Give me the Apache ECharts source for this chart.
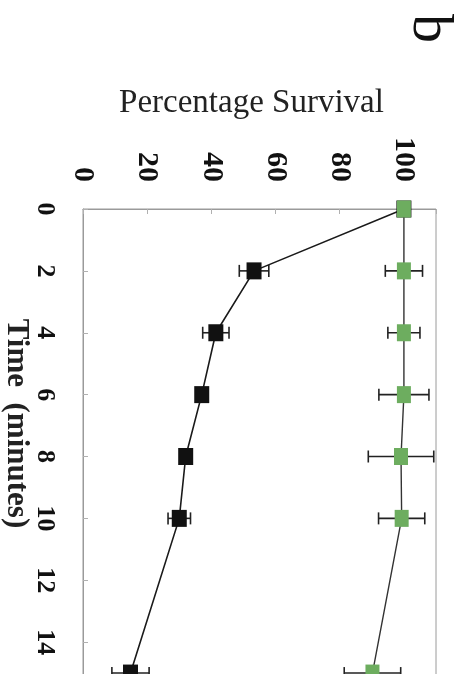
<!DOCTYPE html>
<html>
<head>
<meta charset="utf-8">
<script src="https://cdn.jsdelivr.net/npm/echarts@6/dist/echarts.min.js"></script>
<style>
html,body{margin:0;padding:0;background:#fff;}
#chart{width:465px;height:674px;}
</style>
</head>
<body>
<div id="chart"></div>
<script>
const timeMin = [0, 2, 4, 6, 8, 10, 15];
const blackSurvival = [100, 53.3, 41.4, 37.0, 32.0, 30.0, 14.8];
const blackErr = [0, 4.6, 4.1, 0, 0, 3.5, 5.8];
const greenSurvival = [100, 100, 100, 100, 99.1, 99.3, 90.2];
const greenErr = [0, 5.8, 5.0, 7.8, 10.2, 7.2, 8.8];
const pctTicks = [0, 20, 40, 60, 80, 100];
const timeTicks = [0, 2, 4, 6, 8, 10, 12, 14];

const serif = '"Liberation Serif", "Times New Roman", serif';
const frame = '#9a9a9a';
const ink = '#1a1a1a';
const green = '#6dad5f';

function pts(vals){ return vals.map((v,i)=>[v, timeMin[i]]); }
function errPts(vals, errs){ return vals.map((v,i)=>[v, timeMin[i], errs[i]]); }

function errRender(params, api){
  const p = api.value(0), t = api.value(1), e = api.value(2);
  if (!e) return;
  const a = api.coord([p - e, t]);
  const b = api.coord([p + e, t]);
  const h = 6;
  const st = {stroke: '#222', lineWidth: 1.6};
  return {type:'group', children:[
    {type:'line', shape:{x1:a[0], y1:a[1], x2:b[0], y2:b[1]}, style:st},
    {type:'line', shape:{x1:a[0], y1:a[1]-h, x2:a[0], y2:a[1]+h}, style:st},
    {type:'line', shape:{x1:b[0], y1:b[1]-h, x2:b[0], y2:b[1]+h}, style:st}
  ]};
}

const chart = echarts.init(document.getElementById('chart'), null, {renderer:'canvas'});
chart.setOption({
  animation:false,
  backgroundColor:'#fff',
  grid:{left:83, top:209, width:353, height:495, containLabel:false, outerBoundsMode:'none',
    show:true, borderColor:frame, borderWidth:1, backgroundColor:'transparent'},
  xAxis:{
    type:'value', position:'top', min:0, max:110, interval:20,
    name:'Percentage Survival', nameLocation:'middle', nameGap:89, nameMoveOverlap:false,
    nameTextStyle:{fontFamily:serif, fontSize:33, color:'#222', padding:[0,16,0,0]},
    axisLine:{show:true, lineStyle:{color:frame, width:1}},
    axisTick:{show:true, inside:true, length:5, lineStyle:{color:'#b0b0b0'}},
    splitLine:{show:false},
    axisLabel:{rotate:-90, margin:27, fontFamily:serif, fontWeight:'bold', fontSize:30, color:'#111',
      formatter:function(v){ return pctTicks.indexOf(v) >= 0 ? String(v) : ''; }}
  },
  yAxis:{
    type:'value', inverse:true, min:0, max:16, interval:2,
    name:'Time  (minutes)', nameLocation:'middle', nameGap:51, nameRotate:-90, nameMoveOverlap:false,
    nameTextStyle:{fontFamily:serif, fontWeight:'bold', fontSize:31, color:'#222', padding:[0,66,0,0]},
    axisLine:{show:true, lineStyle:{color:frame, width:1}},
    axisTick:{show:true, inside:true, length:5, lineStyle:{color:'#b0b0b0'}},
    splitLine:{show:false},
    axisLabel:{rotate:-90, margin:25, fontFamily:serif, fontWeight:'bold', fontSize:26, color:'#111',
      formatter:function(v){ return timeTicks.indexOf(v) >= 0 ? String(v) : ''; }}
  },
  graphic:[{type:'text', left:400, top:14, rotation:-Math.PI/2, originX:0, originY:0,
    style:{text:'b', font:'58px ' + serif, fill:'#111'}}],
  series:[
    {type:'custom', name:'black err', renderItem:errRender, data:errPts(blackSurvival, blackErr), encode:{x:0,y:1}, z:1, silent:true},
    {type:'custom', name:'green err', renderItem:errRender, data:errPts(greenSurvival, greenErr), encode:{x:0,y:1}, z:1, silent:true},
    {type:'line', name:'black', data:pts(blackSurvival), symbol:'rect', symbolSize:[15,17], showSymbol:true,
      lineStyle:{color:ink, width:1.6}, itemStyle:{color:'#111'}, z:3},
    {type:'line', name:'green', data:pts(greenSurvival), symbol:'rect', symbolSize:[14,17], showSymbol:true,
      lineStyle:{color:'#333', width:1.4}, itemStyle:{color:green}, z:4}
  ]
});
</script>
</body>
</html>
